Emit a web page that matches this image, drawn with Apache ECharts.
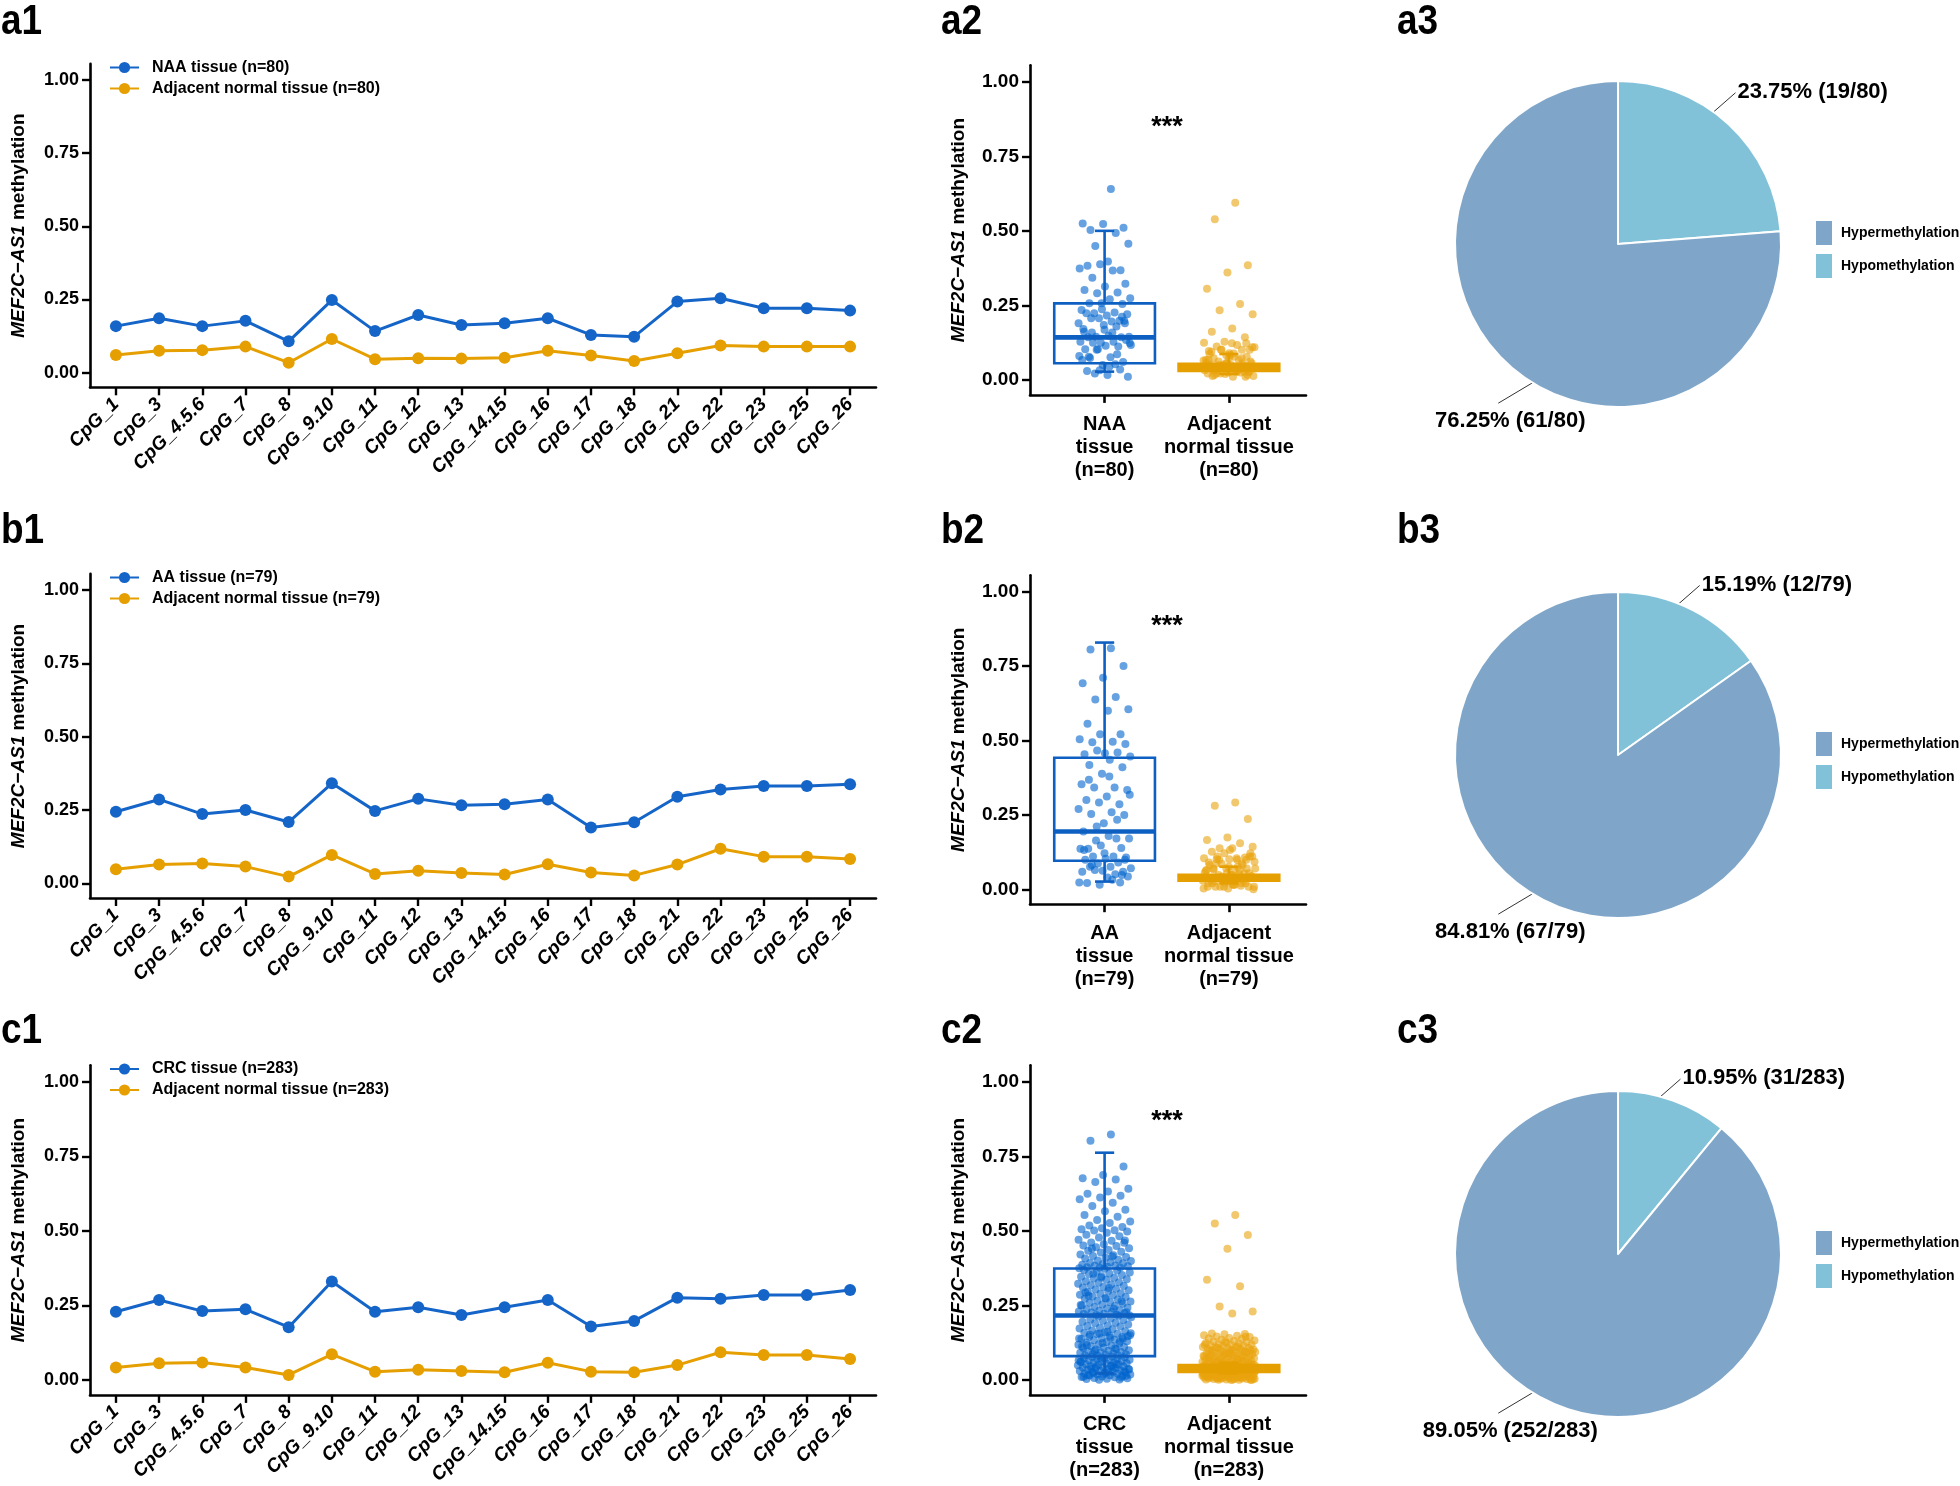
<!DOCTYPE html>
<html>
<head>
<meta charset="utf-8">
<script src="https://cdn.jsdelivr.net/npm/echarts@6/dist/echarts.min.js"></script>
<style>html,body{margin:0;padding:0;background:#fff}#chart{width:1960px;height:1486px}</style>
</head>
<body>
<div id="chart"></div>
<script>
// ---------------- DATA ----------------
const cpgCategories = ['CpG_1','CpG_3','CpG_4.5.6','CpG_7','CpG_8','CpG_9.10','CpG_11','CpG_12','CpG_13','CpG_14.15','CpG_16','CpG_17','CpG_18','CpG_21','CpG_22','CpG_23','CpG_25','CpG_26'];
const yTickValues = [0, 0.25, 0.5, 0.75, 1];

const lineNames = [
  ['NAA tissue (n=80)', 'Adjacent normal tissue (n=80)'],
  ['AA tissue (n=79)', 'Adjacent normal tissue (n=79)'],
  ['CRC tissue (n=283)', 'Adjacent normal tissue (n=283)']
];
const naaLine    = [0.159,0.186,0.159,0.177,0.107,0.248,0.142,0.197,0.163,0.169,0.186,0.129,0.123,0.243,0.254,0.220,0.220,0.212];
const naaAdjLine = [0.060,0.075,0.077,0.089,0.034,0.115,0.046,0.049,0.048,0.051,0.075,0.059,0.040,0.066,0.093,0.089,0.089,0.089];
const aaLine     = [0.244,0.286,0.236,0.250,0.209,0.341,0.247,0.288,0.266,0.270,0.286,0.190,0.208,0.295,0.320,0.332,0.332,0.338];
const aaAdjLine  = [0.048,0.064,0.068,0.057,0.023,0.097,0.032,0.043,0.035,0.030,0.065,0.037,0.027,0.064,0.118,0.091,0.091,0.083];
const crcLine    = [0.229,0.268,0.231,0.237,0.177,0.330,0.229,0.244,0.218,0.244,0.268,0.179,0.198,0.276,0.272,0.285,0.285,0.302];
const crcAdjLine = [0.042,0.056,0.059,0.042,0.017,0.086,0.028,0.034,0.030,0.026,0.058,0.028,0.026,0.050,0.093,0.084,0.084,0.070];

const boxGroupLabels = [
  ['NAA\ntissue\n(n=80)', 'Adjacent\nnormal tissue\n(n=80)'],
  ['AA\ntissue\n(n=79)', 'Adjacent\nnormal tissue\n(n=79)'],
  ['CRC\ntissue\n(n=283)', 'Adjacent\nnormal tissue\n(n=283)']
];
// [lower whisker, Q1, median, Q3, upper whisker]
const naaBox    = [0.028, 0.056, 0.143, 0.257, 0.500];
const naaAdjBox = [0.020, 0.030, 0.042, 0.054, 0.087];
const aaBox     = [0.026, 0.096, 0.194, 0.442, 0.829];
const aaAdjBox  = [0.020, 0.029, 0.040, 0.049, 0.076];
const crcBox    = [0.022, 0.080, 0.216, 0.374, 0.762];
const crcAdjBox = [0.022, 0.027, 0.040, 0.050, 0.058];

const naaPoints = [0.640,0.503,0.510,0.523,0.525,0.493,0.449,0.457,0.397,0.383,0.368,0.388,0.374,0.367,0.343,0.323,0.313,0.302,0.293,0.291,0.274,0.271,0.257,0.255,0.237,0.235,0.226,0.224,0.220,0.216,0.224,0.199,0.207,0.190,0.196,0.207,0.199,0.184,0.171,0.179,0.145,0.145,0.148,0.143,0.143,0.125,0.128,0.128,0.125,0.134,0.115,0.103,0.112,0.103,0.117,0.076,0.074,0.060,0.050,0.067,0.053,0.022,0.011,0.017,0.030,0.035,0.033,0.080,0.159,0.159,0.190,0.168,0.162,0.086,0.101,0.124,0.044,0.078,0.212,0.257];
const naaAdjPoints = [0.594,0.539,0.385,0.360,0.306,0.255,0.234,0.220,0.173,0.162,0.143,0.128,0.125,0.117,0.112,0.101,0.090,0.097,0.101,0.101,0.110,0.078,0.073,0.078,0.083,0.067,0.067,0.062,0.056,0.050,0.050,0.047,0.045,0.039,0.036,0.039,0.028,0.025,0.022,0.025,0.022,0.013,0.011,0.013,0.011,0.020,0.033,0.033,0.031,0.062,0.084,0.087,0.056,0.047,0.042,0.033,0.017,0.017,0.056,0.058,0.042,0.050,0.110,0.123,0.095,0.028,0.050,0.065,0.028,0.022,0.028,0.073,0.067,0.073,0.101,0.039,0.089,0.033,0.123,0.056];
const aaPoints = [0.810,0.806,0.750,0.711,0.692,0.646,0.638,0.605,0.600,0.556,0.521,0.521,0.504,0.496,0.494,0.488,0.457,0.454,0.460,0.466,0.446,0.435,0.418,0.410,0.388,0.353,0.342,0.342,0.334,0.312,0.300,0.286,0.292,0.270,0.259,0.253,0.250,0.222,0.194,0.171,0.164,0.171,0.179,0.136,0.139,0.147,0.136,0.110,0.110,0.107,0.103,0.099,0.090,0.087,0.071,0.076,0.076,0.059,0.062,0.059,0.051,0.065,0.043,0.040,0.021,0.023,0.015,0.023,0.032,0.082,0.099,0.121,0.132,0.234,0.211,0.318,0.379,0.368,0.048];
const aaAdjPoints = [0.292,0.281,0.236,0.174,0.166,0.155,0.138,0.143,0.138,0.126,0.107,0.121,0.104,0.099,0.101,0.110,0.101,0.090,0.087,0.087,0.093,0.065,0.067,0.070,0.070,0.062,0.051,0.048,0.045,0.048,0.032,0.029,0.032,0.029,0.034,0.009,0.009,0.003,0.009,0.012,0.009,0.000,0.015,0.020,0.020,0.022,0.056,0.076,0.110,0.121,0.132,0.082,0.082,0.043,0.070,0.015,0.026,0.037,0.054,0.065,0.065,0.099,0.110,0.048,0.037,0.054,0.009,0.003,0.104,0.087,0.054,0.076,0.020,0.020,0.032,0.009,0.015,0.070,0.099];
const crcPoints = [0.823,0.802,0.716,0.687,0.676,0.672,0.664,0.641,0.632,0.624,0.618,0.612,0.606,0.594,0.583,0.571,0.566,0.553,0.547,0.536,0.531,0.526,0.518,0.513,0.509,0.505,0.502,0.501,
0.498,0.494,0.487,0.482,0.478,0.470,0.467,0.461,0.460,0.455,0.451,0.449,0.445,0.442,0.436,0.433,0.430,0.427,0.421,0.418,0.416,0.412,0.410,0.407,0.403,0.401,0.399,0.395,0.392,0.391,0.388,0.386,0.384,0.383,0.381,0.380,0.378,0.377,0.376,0.375,0.414,0.441,0.468,
0.373,0.369,0.367,0.363,0.360,0.357,0.355,0.352,0.348,0.346,0.343,0.340,0.338,0.336,0.331,0.328,0.326,0.323,0.320,0.318,0.315,0.312,0.310,0.306,0.303,0.301,0.298,0.295,0.291,0.289,0.286,0.284,0.280,0.278,0.275,0.272,0.270,0.266,0.263,0.261,0.259,0.256,0.253,0.250,0.248,0.245,0.242,0.240,0.237,0.234,0.232,0.230,0.228,0.226,0.224,0.222,0.221,0.219,0.218,0.217,0.308,0.282,0.264,0.344,0.251,0.239,0.356,0.227,0.273,0.293,
0.215,0.213,0.210,0.206,0.203,0.201,0.199,0.195,0.192,0.190,0.186,0.183,0.181,0.179,0.175,0.173,0.170,0.166,0.163,0.160,0.158,0.155,0.154,0.150,0.148,0.145,0.144,0.141,0.137,0.135,0.133,0.130,0.127,0.126,0.122,0.120,0.118,0.115,0.113,0.111,0.108,0.107,0.104,0.102,0.100,0.098,0.096,0.094,0.093,0.091,0.089,0.087,0.086,0.085,0.083,0.082,0.081,0.157,0.142,0.152,0.138,0.124,0.112,0.106,0.097,0.147,0.162,0.117,0.129,0.156,0.139,
0.079,0.078,0.076,0.074,0.073,0.071,0.070,0.068,0.067,0.065,0.064,0.062,0.061,0.059,0.058,0.056,0.055,0.053,0.052,0.050,0.049,0.047,0.046,0.045,0.043,0.042,0.040,0.039,0.037,0.036,0.034,0.032,0.031,0.030,0.028,0.027,0.025,0.024,0.022,0.021,0.019,0.018,0.016,0.015,0.013,0.012,0.010,0.009,0.007,0.006,0.004,0.003,0.002,0.001,0.066,0.048,0.038,0.029,0.020,0.011,0.054,0.044,0.035,0.026,0.017,0.008,0.072,0.061,0.041,0.023,0.014];
const crcAdjPoints = [0.553,0.525,0.486,0.440,0.336,0.314,0.246,0.230,0.223,
0.156,0.154,0.153,0.150,0.148,0.146,0.144,0.141,0.139,0.137,0.135,0.132,0.131,0.129,0.127,0.125,0.124,0.122,0.120,0.119,0.117,0.116,0.114,0.113,0.111,0.110,0.109,0.107,0.106,0.105,0.104,0.103,0.102,0.101,0.100,0.145,0.128,0.118,0.112,0.108,
0.099,0.098,0.097,0.096,0.095,0.094,0.093,0.092,0.091,0.090,0.089,0.088,0.087,0.086,0.085,0.084,0.083,0.082,0.081,0.080,0.079,0.078,0.077,0.076,0.075,0.074,0.073,0.072,0.071,0.070,0.069,0.068,0.067,0.066,0.065,0.064,0.063,0.062,0.061,0.060,0.059,0.058,0.057,0.056,0.055,0.054,0.053,0.052,0.051,0.050,0.095,0.087,0.078,0.069,0.061,0.053,0.091,0.073,0.064,0.057,
0.049,0.049,0.048,0.048,0.047,0.047,0.046,0.046,0.045,0.045,0.044,0.044,0.043,0.043,0.042,0.042,0.041,0.041,0.040,0.040,0.039,0.039,0.038,0.038,0.037,0.037,0.036,0.036,0.035,0.035,0.034,0.034,0.033,0.033,0.032,0.032,0.031,0.031,0.030,0.030,0.029,0.029,0.028,0.028,0.027,0.027,0.049,0.048,0.047,0.046,0.045,0.044,0.043,0.042,0.041,0.040,0.039,0.038,0.037,0.036,0.035,0.034,0.033,0.032,0.031,0.030,0.029,0.028,0.027,0.048,0.046,0.044,0.042,0.040,0.038,0.036,0.034,0.032,0.030,0.028,0.047,0.045,0.043,0.041,0.039,0.037,0.035,0.033,0.031,0.029,0.046,0.043,0.040,0.037,0.034,0.031,0.028,0.044,0.038,0.032,
0.026,0.026,0.025,0.025,0.024,0.024,0.023,0.023,0.022,0.022,0.021,0.021,0.020,0.020,0.019,0.019,0.018,0.018,0.017,0.017,0.016,0.016,0.015,0.015,0.014,0.014,0.013,0.013,0.012,0.012,0.011,0.011,0.010,0.010,0.009,0.009,0.008,0.008,0.007,0.007,0.006,0.006,0.005,0.005,0.004,0.004,0.003,0.003,0.002,0.002,0.001,0.001,0.000,0.000,0.026,0.024,0.022,0.020,0.018,0.016,0.014,0.012,0.010,0.008,0.006,0.004,0.002,0.025,0.021,0.017,0.013,0.009,0.005,0.001];

const pieNames = ['Hypermethylation', 'Hypomethylation'];
const pieHyper = [61, 67, 252];
const pieHypo  = [19, 12, 31];

const panelLabels = [['a1','a2','a3'],['b1','b2','b3'],['c1','c2','c3']];

// ---------------- LAYOUT / STYLE ----------------
const FONT = 'Liberation Sans, Arial, Helvetica, sans-serif';
const BLUE = '#1565C8', ORANGE = '#E69F00';
const BOX_BLUE = '#0D5FC2';
const DOT_BLUE = '#0064CD', DOT_ORANGE = '#E9A30D';
const PIE_COLORS = { Hypermethylation: '#7FA6C9', Hypomethylation: '#82C2D9' };

const lineGrids = [
  { left: 90, top: 63.9, width: 786, height: 323.4 },
  { left: 90, top: 573.9, width: 786, height: 324.1 },
  { left: 90, top: 1065.3, width: 786, height: 329.6 }
];
const boxGrids = [
  { left: 1030, top: 65.3, width: 276, height: 329.6 },
  { left: 1030, top: 575.3, width: 276, height: 328.9 },
  { left: 1030, top: 1065.3, width: 276, height: 329.6 }
];
const lineLegendTops = [59.5, 569.5, 1061];
const pieCenterX = 1618, pieRadius = 163;
const pieCentersY = [244, 755, 1254];
const pieLegendTops = [219, 730, 1229];
const panelLabelY = [22, 531, 1031];
const starY = [128, 627, 1122];
const panelLabelX = [1, 941, 1397];

const lineData = [[naaLine, naaAdjLine], [aaLine, aaAdjLine], [crcLine, crcAdjLine]];
const boxData = [[naaBox, naaAdjBox], [aaBox, aaAdjBox], [crcBox, crcAdjBox]];
const pointData = [[naaPoints, naaAdjPoints], [aaPoints, aaAdjPoints], [crcPoints, crcAdjPoints]];

// deterministic low-discrepancy horizontal spread for the dot strips
function spread(k) { const f = ((k + 1) * 0.6180339887) % 1; return (f - 0.5) * 0.43; }

const axisLineStyle = { color: '#000', width: 2.6 };
const yNameStyle = {
  fontSize: 19, fontWeight: 'bold', color: '#000', fontFamily: FONT,
  rich: { it: { fontSize: 19, fontWeight: 'bold', fontStyle: 'italic', color: '#000', fontFamily: FONT } }
};

function makeYAxis(gridIndex, labelSize) {
  return {
    type: 'value', gridIndex, min: -0.05, max: 1.055,
    splitLine: { show: false },
    axisLine: { show: true, onZero: false, lineStyle: axisLineStyle },
    axisTick: { show: true, customValues: yTickValues, length: 8, lineStyle: { color: '#000', width: 2.4 } },
    axisLabel: { customValues: yTickValues, formatter: v => v.toFixed(2), fontSize: labelSize, fontWeight: 'bold', color: '#000', fontFamily: FONT, margin: 11 },
    name: '{it|MEF2C\u2212AS1} methylation', nameLocation: 'middle', nameGap: 62, nameTextStyle: yNameStyle
  };
}

const grids = [], xAxes = [], yAxes = [], series = [], legends = [], graphics = [];

lineGrids.forEach((g, r) => {
  grids.push(g);
  const idx = cpgCategories.map((c, i) => i);
  xAxes.push({
    type: 'value', gridIndex: r, min: -0.6, max: 17.6,
    splitLine: { show: false },
    axisLine: { show: true, onZero: false, lineStyle: axisLineStyle },
    axisTick: { show: true, customValues: idx, length: 8, lineStyle: { color: '#000', width: 2.4 } },
    axisLabel: { customValues: idx, formatter: v => cpgCategories[Math.round(v)], rotate: 45, margin: 14,
      fontSize: 19, fontWeight: 'bold', fontStyle: 'italic', color: '#000', fontFamily: FONT }
  });
  yAxes.push(makeYAxis(r, 18));
  [BLUE, ORANGE].forEach((col, s) => {
    series.push({
      type: 'line', name: lineNames[r][s], xAxisIndex: r, yAxisIndex: r,
      data: lineData[r][s].map((v, i) => [i, v]),
      symbol: 'circle', symbolSize: 12, color: col,
      lineStyle: { width: 3, color: col }, itemStyle: { color: col },
      emphasis: { disabled: true }, z: 3 - s
    });
  });
  legends.push({
    left: 109, top: lineLegendTops[r], orient: 'vertical', itemWidth: 29, itemHeight: 14, itemGap: 5, padding: 0,
    data: lineNames[r], selectedMode: false,
    textStyle: { fontSize: 16, fontWeight: 'bold', color: '#000', fontFamily: FONT, padding: [0, 0, 0, 8] }
  });
});

function renderBox(params, api) {
  const x = api.value(0);
  const lo = api.coord([x, api.value(1)]);
  const q1 = api.coord([x, api.value(2)]);
  const md = api.coord([x, api.value(3)]);
  const q3 = api.coord([x, api.value(4)]);
  const hi = api.coord([x, api.value(5)]);
  const half = api.size([0.405, 0])[0];
  const capHalf = api.size([0.077, 0])[0];
  const color = api.visual('color');
  const cx = md[0];
  const boxH = q1[1] - q3[1];
  const ls = { stroke: color, lineWidth: 2.6, fill: null };
  return {
    type: 'group', children: [
      { type: 'line', shape: { x1: cx, y1: q3[1], x2: cx, y2: hi[1] }, style: ls },
      { type: 'line', shape: { x1: cx - capHalf, y1: hi[1], x2: cx + capHalf, y2: hi[1] }, style: ls },
      { type: 'line', shape: { x1: cx, y1: q1[1], x2: cx, y2: lo[1] }, style: ls },
      { type: 'line', shape: { x1: cx - capHalf, y1: lo[1], x2: cx + capHalf, y2: lo[1] }, style: ls },
      { type: 'rect', shape: { x: cx - half, y: q3[1], width: 2 * half, height: boxH },
        style: { stroke: color, lineWidth: 2.6, fill: boxH < 12 ? color : 'none' } },
      { type: 'line', shape: { x1: cx - half, y1: md[1], x2: cx + half, y2: md[1] }, style: { stroke: color, lineWidth: 4.6 } }
    ]
  };
}

boxGrids.forEach((g, r) => {
  const gi = 3 + r;
  grids.push(g);
  xAxes.push({
    type: 'value', gridIndex: gi, min: -0.6, max: 1.62,
    splitLine: { show: false },
    axisLine: { show: true, onZero: false, lineStyle: axisLineStyle },
    axisTick: { show: true, customValues: [0, 1], length: 8, lineStyle: { color: '#000', width: 2.6 } },
    axisLabel: { customValues: [0, 1], formatter: v => boxGroupLabels[r][v < 0.5 ? 0 : 1], margin: 18,
      fontSize: 20, lineHeight: 23, fontWeight: 'bold', color: '#000', fontFamily: FONT, align: 'center' }
  });
  yAxes.push(makeYAxis(gi, 19));
  [[DOT_BLUE, BOX_BLUE], [DOT_ORANGE, ORANGE]].forEach((cols, s) => {
    series.push({
      type: 'scatter', name: lineNames[r][s] + ' values', xAxisIndex: gi, yAxisIndex: gi,
      data: pointData[r][s].map((v, k) => [s + spread(k), v]),
      symbol: 'circle', symbolSize: 8, itemStyle: { color: cols[0], opacity: 0.6 },
      emphasis: { disabled: true }, silent: true, z: 2
    });
    series.push({
      type: 'custom', name: lineNames[r][s] + ' box', xAxisIndex: gi, yAxisIndex: gi,
      renderItem: renderBox, itemStyle: { color: cols[1] },
      encode: { x: 0, y: [1, 2, 3, 4, 5] },
      data: [[s].concat(boxData[r][s])], silent: true, z: 4, clip: false
    });
  });
  graphics.push({
    type: 'text', x: 1167, y: starY[r], z: 10,
    style: { text: '***', fontSize: 27, fontWeight: 'bold', fontFamily: FONT, fill: '#000',
      align: 'center', verticalAlign: 'middle', textAlign: 'center', textVerticalAlign: 'middle' }
  });
});

// label placement: minority slice label up-right of its slice, majority label below-left
function makePieLabelLayout(cx, cy, smallFrac) {
  const rad = Math.PI / 180;
  return function (p) {
    if (p.dataIndex === 0) {
      const a = (smallFrac * 180 - 8) * rad;
      const s = [cx + 150 * Math.sin(a), cy - 150 * Math.cos(a)];
      const e = [s[0] + 32, s[1] - 28];
      return { x: e[0] + 2, y: e[1] - 1, align: 'left', verticalAlign: 'middle', labelLinePoints: [s, e, e] };
    }
    const a = 209 * rad;
    const s = [cx + 150 * Math.sin(a), cy - 150 * Math.cos(a)];
    const e = [s[0] - 47, s[1] + 28];
    return { x: e[0] + 12, y: e[1] + 18, align: 'center', verticalAlign: 'middle', labelLinePoints: [s, e, e] };
  };
}

pieCentersY.forEach((cy, r) => {
  const total = pieHyper[r] + pieHypo[r];
  series.push({
    type: 'pie', name: 'methylation status ' + panelLabels[r][2],
    center: [pieCenterX, cy], radius: pieRadius, startAngle: 90, clockwise: true, avoidLabelOverlap: false,
    data: [
      { name: pieNames[1], value: pieHypo[r], itemStyle: { color: PIE_COLORS[pieNames[1]] } },
      { name: pieNames[0], value: pieHyper[r], itemStyle: { color: PIE_COLORS[pieNames[0]] } }
    ],
    itemStyle: { borderColor: '#fff', borderWidth: 2 },
    label: { show: true, position: 'outside', formatter: p => p.percent.toFixed(2) + '% (' + p.value + '/' + total + ')',
      fontSize: 22, fontWeight: 'bold', color: '#000', fontFamily: FONT },
    labelLine: { show: true, length: 32, length2: 0, lineStyle: { color: '#333', width: 1 } },
    labelLayout: makePieLabelLayout(pieCenterX, cy, pieHypo[r] / total),
    emphasis: { disabled: true }, silent: true
  });
  legends.push({
    left: 1814, top: pieLegendTops[r], orient: 'vertical', itemWidth: 18, itemHeight: 26, itemGap: 5, icon: 'rect', padding: 0,
    data: pieNames, selectedMode: false,
    textStyle: { fontSize: 14, fontWeight: 'bold', color: '#000', fontFamily: FONT, padding: [0, 0, 0, 3] }
  });
});

panelLabels.forEach((row, r) => {
  row.forEach((txt, c) => {
    graphics.push({
      type: 'text', x: panelLabelX[c], y: panelLabelY[r], z: 10, scaleX: 0.86,
      style: { text: txt, fontSize: 43, fontWeight: 'bold', fontFamily: FONT, fill: '#000',
        align: 'left', verticalAlign: 'middle', textAlign: 'left', textVerticalAlign: 'middle' }
    });
  });
});

const chart = echarts.init(document.getElementById('chart'), null, { renderer: 'canvas', width: 1960, height: 1486 });
chart.setOption({
  backgroundColor: '#fff',
  animation: false,
  textStyle: { fontFamily: FONT },
  grid: grids.map(g => Object.assign({ containLabel: false, outerBoundsMode: 'none' }, g)),
  xAxis: xAxes,
  yAxis: yAxes,
  legend: legends,
  series: series,
  graphic: graphics
});
</script>
</body>
</html>
